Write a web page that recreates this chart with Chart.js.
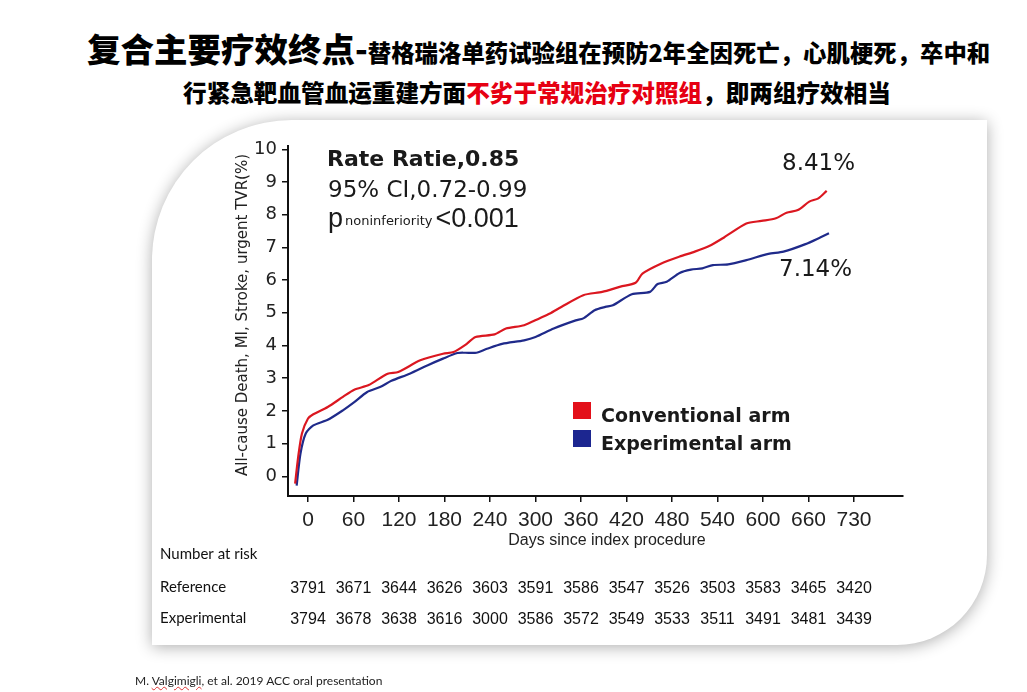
<!DOCTYPE html>
<html>
<head>
<meta charset="utf-8">
<script src="https://cdn.jsdelivr.net/npm/chart.js@4.4.1/dist/chart.umd.min.js"></script>
<style>
  html, body { margin: 0; padding: 0; background: #fff; }
  body { width: 1027px; height: 692px; position: relative; overflow: hidden; font-family: "Noto Sans CJK SC", sans-serif; }
  #panel {
    position: absolute; left: 152px; top: 120px; width: 835px; height: 525px;
    background: #fff; border-top-left-radius: 140px; border-bottom-right-radius: 90px;
    box-shadow: 0 2px 16px rgba(0,0,0,0.32);
  }
  .t1 { position: absolute; left: 87px; top: 28px; line-height: 40px; white-space: nowrap; font-weight: 900; color: #000; }
  .big { font-size: 33.5px; }
  .small { font-size: 23.4px; }
  .t2 { position: absolute; left: 0; width: 1074px; top: 77px; line-height: 30px; text-align: center; font-size: 23.6px; font-weight: 900; white-space: nowrap; color: #000; }
  .red { color: #e60012; }
  #foot { position: absolute; left: 135px; top: 673px; font: 12px Lato, sans-serif; color: #222; white-space: nowrap; }
  #foot span { text-decoration: underline wavy #d33; text-decoration-thickness: 1px; }
  #c { position: absolute; left: 0; top: 0; }
</style>
</head>
<body>
<div id="panel"></div>
<div class="t1"><span class="big">复合主要疗效终点-</span><span class="small">替格瑞洛单药试验组在预防2年全因死亡，心肌梗死，卒中和</span></div>
<div class="t2">行紧急靶血管血运重建方面<span class="red">不劣于常规治疗对照组</span>，即两组疗效相当</div>
<canvas id="c" width="1027" height="692"></canvas>
<div id="foot">M. <span>Valgimigli</span>, et al. 2019 ACC oral presentation</div>

<script>
// eje x: cada 60 dias, la ultima etiqueta es 730
const xTicks = [0, 60, 120, 180, 240, 300, 360, 420, 480, 540, 600, 660, 720];
const xTickLabels = ['0', '60', '120', '180', '240', '300', '360', '420', '480', '540', '600', '660', '730'];
const yTicks = [0, 1, 2, 3, 4, 5, 6, 7, 8, 9, 10];

// curvas (dias, %)
const convDays = [-17, -13, -8, 0, 7, 26, 46, 61, 80, 105, 119, 148, 178, 192, 207, 221, 246, 261, 285, 305,
  319, 334, 363, 388, 412, 432, 441, 466, 490, 510, 529, 549, 578, 598, 617, 631, 646, 661, 673, 684];
const convRate = [-0.22, 0.59, 1.31, 1.77, 1.90, 2.12, 2.43, 2.65, 2.79, 3.14, 3.19, 3.55, 3.75, 3.80, 4.01, 4.26, 4.34, 4.52, 4.62, 4.83,
  4.98, 5.18, 5.54, 5.64, 5.80, 5.92, 6.20, 6.51, 6.72, 6.87, 7.04, 7.31, 7.73, 7.81, 7.89, 8.06, 8.14, 8.40, 8.50, 8.73];

const expDays = [-15, -10, -3, 7, 26, 46, 61, 78, 95, 110, 134, 158, 178, 197, 207, 222, 236, 256, 285, 300,
  324, 353, 363, 378, 392, 402, 427, 451, 461, 473, 490, 505, 520, 534, 554, 578, 607, 627, 656, 676, 687];
const expRate = [-0.28, 0.69, 1.31, 1.56, 1.73, 2.02, 2.27, 2.58, 2.73, 2.92, 3.14, 3.40, 3.60, 3.77, 3.78, 3.78, 3.90, 4.05, 4.16, 4.26,
  4.52, 4.77, 4.83, 5.08, 5.18, 5.23, 5.57, 5.64, 5.88, 5.95, 6.22, 6.32, 6.36, 6.46, 6.48, 6.61, 6.80, 6.87, 7.10, 7.31, 7.43];

const seriesLabels = ['Conventional arm', 'Experimental arm'];
const seriesColors = ['#db1720', '#1f2a8a'];
const legendColors = ['#e3101a', '#1c2690'];

// numero en riesgo
const riskLabels = ['Reference', 'Experimental'];
const riskReference = [3791, 3671, 3644, 3626, 3603, 3591, 3586, 3547, 3526, 3503, 3583, 3465, 3420];
const riskExperimental = [3794, 3678, 3638, 3616, 3000, 3586, 3572, 3549, 3533, 3511, 3491, 3481, 3439];

const endLabels = ['8.41%', '7.14%'];

const toPts = (xs, ys) => xs.map((x, i) => ({ x, y: ys[i] }));

const extras = {
  id: 'extras',
  afterDraw(chart) {
    const ctx = chart.ctx;
    const xs = chart.scales.x;
    ctx.save();
    ctx.fillStyle = '#222';

    // titulo eje y
    ctx.save();
    ctx.translate(243, 315);
    ctx.rotate(-Math.PI / 2);
    ctx.font = '15px "DejaVu Sans"';
    ctx.textAlign = 'center';
    ctx.textBaseline = 'middle';
    ctx.fillText('All-cause Death, MI, Stroke, urgent TVR(%)', 0, 0);
    ctx.restore();

    // titulo eje x
    ctx.font = '16px "Liberation Sans"';
    ctx.textAlign = 'center';
    ctx.textBaseline = 'alphabetic';
    ctx.fillText('Days since index procedure', 607, 545);

    // textos estadisticos
    ctx.textAlign = 'left';
    ctx.fillStyle = '#1a1a1a';
    ctx.font = 'bold 22px "DejaVu Sans"';
    ctx.fillText('Rate Ratie,0.85', 327, 166);
    ctx.font = '23px "DejaVu Sans"';
    ctx.fillText('95% CI,0.72-0.99', 328, 197);
    ctx.font = '27px "Liberation Sans"';
    ctx.fillText('p', 328, 227);
    let px = 328 + ctx.measureText('p').width + 2;
    ctx.font = '13px "DejaVu Sans"';
    ctx.fillText('noninferiority', px, 225);
    px += ctx.measureText('noninferiority').width + 3;
    ctx.font = '27px "Liberation Sans"';
    ctx.fillText('<0.001', px, 227);

    ctx.font = '23px "DejaVu Sans"';
    ctx.fillText(endLabels[0], 782, 170);
    ctx.fillText(endLabels[1], 779, 276);

    // leyenda
    ctx.font = 'bold 19px "DejaVu Sans"';
    const legY = [402, 430];
    seriesLabels.forEach((lab, i) => {
      ctx.fillStyle = legendColors[i];
      ctx.fillRect(573, legY[i], 18, 17);
      ctx.fillStyle = '#1a1a1a';
      ctx.fillText(lab, 601, legY[i] + 20);
    });

    // numero en riesgo
    ctx.fillStyle = '#111';
    ctx.font = '15px Lato';
    ctx.textAlign = 'left';
    ctx.fillText('Number at risk', 160, 559);
    ctx.fillText(riskLabels[0], 160, 592);
    ctx.fillText(riskLabels[1], 160, 623);
    ctx.font = '16px "Liberation Sans Narrow", "Liberation Sans"';
    ctx.textAlign = 'center';
    xTicks.forEach((d, i) => {
      const x = xs.getPixelForValue(d);
      ctx.fillText(String(riskReference[i]), x, 593);
      ctx.fillText(String(riskExperimental[i]), x, 624);
    });
    ctx.restore();
  }
};

new Chart(document.getElementById('c'), {
  type: 'line',
  data: {
    datasets: [
      { label: seriesLabels[0], data: toPts(convDays, convRate), borderColor: seriesColors[0] },
      { label: seriesLabels[1], data: toPts(expDays, expRate), borderColor: seriesColors[1] }
    ]
  },
  options: {
    responsive: false,
    animation: false,
    layout: { padding: { left: 228, right: 124, top: 146, bottom: 146 } },
    elements: {
      line: { borderWidth: 2.2, tension: 0.25, fill: false },
      point: { radius: 0 }
    },
    plugins: { legend: { display: false }, tooltip: { enabled: false } },
    scales: {
      x: {
        type: 'linear',
        min: -26.4,
        max: 784.6,
        afterFit: s => { s.height = 50; },
        afterBuildTicks: s => { s.ticks = xTicks.map(v => ({ value: v })); },
        ticks: {
          autoSkip: false,
          maxRotation: 0,
          padding: 6,
          color: '#222',
          font: { family: 'Liberation Sans', size: 21 },
          callback: (v) => xTickLabels[xTicks.indexOf(v)]
        },
        grid: { display: true, drawOnChartArea: false, drawTicks: true, tickLength: 6, tickColor: '#111', lineWidth: 1.5 },
        border: { display: true, color: '#111', width: 2 }
      },
      y: {
        type: 'linear',
        min: -0.6,
        max: 10.1,
        afterFit: s => { s.width = 60; },
        afterBuildTicks: s => { s.ticks = yTicks.map(v => ({ value: v })); },
        ticks: {
          padding: 5,
          color: '#222',
          font: { family: 'DejaVu Sans', size: 18 }
        },
        grid: { display: true, drawOnChartArea: false, drawTicks: true, tickLength: 6, tickColor: '#111', lineWidth: 1.5 },
        border: { display: true, color: '#111', width: 2 }
      }
    }
  },
  plugins: [extras]
});
</script>
</body>
</html>
